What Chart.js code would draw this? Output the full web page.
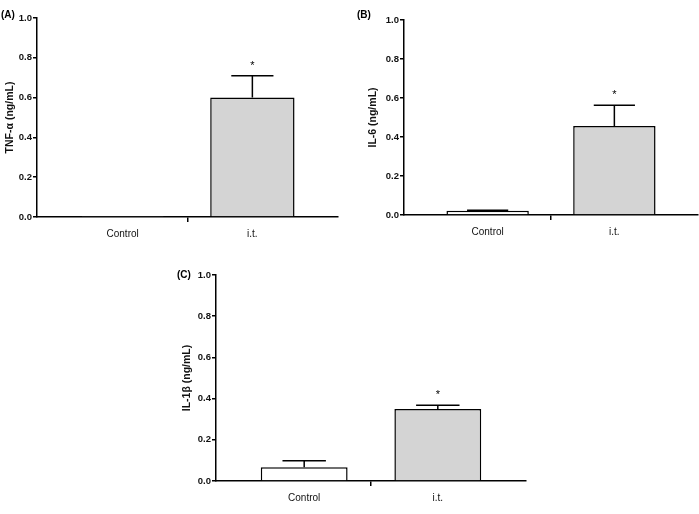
<!DOCTYPE html>
<html>
<head>
<meta charset="utf-8">
<script src="https://cdn.jsdelivr.net/npm/chart.js@4.4.0/dist/chart.umd.min.js"></script>
<style>
  body { margin: 0; background: #fff; }
  #wrap { position: relative; width: 699px; height: 514px; }
  canvas { position: absolute; }
</style>
</head>
<body>
<div id="wrap">
  <canvas id="chartA" width="345" height="250" style="left:0;top:0"></canvas>
  <canvas id="chartB" width="349" height="250" style="left:350px;top:0"></canvas>
  <canvas id="chartC" width="360" height="259" style="left:170px;top:255px"></canvas>
</div>
<script>
// data
const groups = ['Control', 'i.t.'];
const stars = ['', '*'];
const yTicks = [0, 0.2, 0.4, 0.6, 0.8, 1.0];

const tnfMean = [0.002, 0.60];
const tnfErr = [0, 0.11];
const il6Mean = [0.022, 0.456];
const il6Err = [0.003, 0.107];
const il1bMean = [0.067, 0.35];
const il1bErr = [0.031, 0.018];

const FONT = 'Liberation Sans, Arial, Helvetica, sans-serif';

// error bars (upward only) + asterisks + panel letter
const extrasPlugin = {
  id: 'extras',
  afterDatasetsDraw(chart) {
    const c = chart.ctx;
    const yScale = chart.scales.y;
    const meta = chart.getDatasetMeta(0);
    const opts = chart.options.plugins.extras;
    c.save();
    c.strokeStyle = '#000';
    c.lineWidth = 1.5;
    meta.data.forEach((bar, i) => {
      const top = yScale.getPixelForValue(opts.mean[i] + opts.err[i]);
      if (opts.err[i] > 0) {
        const half = bar.width / 4;
        c.beginPath();
        c.moveTo(bar.x, bar.y);
        c.lineTo(bar.x, top);
        c.moveTo(bar.x - half, top);
        c.lineTo(bar.x + half, top);
        c.stroke();
      }
      if (stars[i]) {
        c.fillStyle = '#000';
        c.font = '11px ' + FONT;
        c.textAlign = 'center';
        c.textBaseline = 'alphabetic';
        c.fillText(stars[i], bar.x, top - 7);
      }
    });
    c.fillStyle = '#000';
    c.font = 'bold 10px ' + FONT;
    c.textAlign = 'left';
    c.textBaseline = 'middle';
    c.fillText(opts.letter, opts.letterX, opts.letterY);
    c.restore();
  }
};

function makeChart(id, title, mean, err, p) {
  const ctx = document.getElementById(id).getContext('2d');
  return new Chart(ctx, {
    type: 'bar',
    data: {
      datasets: [{
        data: groups.map((g, i) => ({ x: i, y: mean[i] })),
        backgroundColor: ['#ffffff', '#d4d4d4'],
        borderColor: '#000',
        borderWidth: 1.5,
        categoryPercentage: 1,
        barPercentage: 1.3
      }]
    },
    options: {
      responsive: false,
      animation: false,
      layout: { padding: { left: p.padLeft, top: p.padTop, right: p.padRight, bottom: 0 } },
      scales: {
        x: {
          type: 'linear',
          offset: false,
          min: -0.66,
          max: 1.66,
          afterBuildTicks: (s) => { s.ticks = [{ value: 0 }, { value: 0.5 }, { value: 1 }]; },
          afterFit: (s) => { s.height = p.xHeight; },
          border: { display: true, color: '#000', width: 1.5 },
          grid: {
            offset: false,
            drawOnChartArea: false,
            drawTicks: true,
            tickLength: 5,
            lineWidth: 1.5,
            tickColor: (c) => (c.tick && c.tick.value === 0.5 ? '#000' : 'rgba(0,0,0,0)')
          },
          ticks: {
            autoSkip: false,
            maxRotation: 0,
            padding: 6,
            color: '#111',
            font: { family: FONT, size: 10 },
            callback: (v) => (Number.isInteger(v) ? groups[v] : '')
          }
        },
        y: {
          min: 0,
          max: 1,
          afterBuildTicks: (s) => { s.ticks = yTicks.map(v => ({ value: v })); },
          afterFit: (s) => { s.width = p.yWidth; },
          border: { display: true, color: '#000', width: 1.5 },
          grid: { drawOnChartArea: false, drawTicks: true, tickLength: 4, lineWidth: 1.5, tickColor: '#000' },
          ticks: {
            padding: 1,
            color: '#111',
            font: { family: FONT, size: 9.5, weight: 'bold' },
            callback: (v) => v.toFixed(1)
          },
          title: {
            display: true,
            text: title,
            color: '#111',
            padding: { top: 4, bottom: 0 },
            font: { family: FONT, size: 10.5, weight: 'bold' }
          }
        }
      },
      plugins: {
        legend: { display: false },
        tooltip: { enabled: false },
        extras: { mean: mean, err: err, letter: p.letter, letterX: p.letterX, letterY: p.letterY }
      }
    },
    plugins: [extrasPlugin]
  });
}

makeChart('chartA', 'TNF-\u03b1 (ng/mL)', tnfMean, tnfErr,
  { padLeft: 0, padTop: 18, padRight: 7, yWidth: 37, xHeight: 33, letter: '(A)', letterX: 1, letterY: 15 });
makeChart('chartB', 'IL-6 (ng/mL)', il6Mean, il6Err,
  { padLeft: 13, padTop: 20, padRight: 1, yWidth: 41, xHeight: 35, letter: '(B)', letterX: 7, letterY: 15 });
makeChart('chartC', 'IL-1\u03b2 (ng/mL)', il1bMean, il1bErr,
  { padLeft: 7, padTop: 20, padRight: 4, yWidth: 39, xHeight: 33, letter: '(C)', letterX: 7, letterY: 20 });
</script>
</body>
</html>
